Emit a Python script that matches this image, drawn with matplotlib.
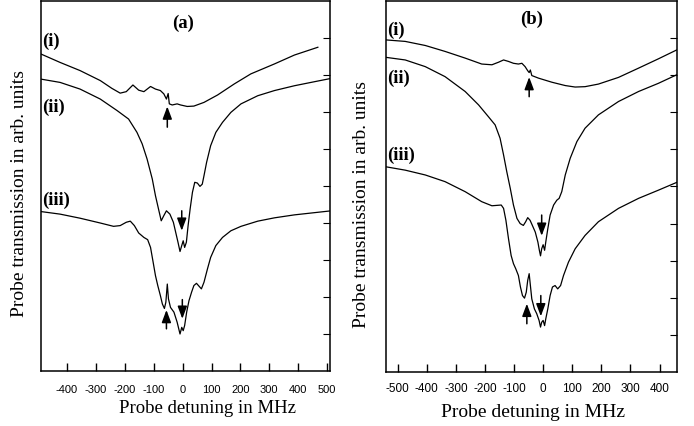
import matplotlib
matplotlib.use('Agg')
import matplotlib.pyplot as plt

# panel (a) - detuning in MHz, transmission in arb. units
a1_x = [-491, -424, -355, -285, -245, -216, -195, -172, -152, -134, -111, -94, -77, -65, -56, -50, -46, -36, -19, -7, 16, 39, 74, 121, 179, 236, 318, 387, 468]
a1_y = [8.57, 8.34, 8.12, 7.85, 7.64, 7.51, 7.55, 7.73, 7.59, 7.55, 7.69, 7.62, 7.58, 7.49, 7.35, 7.50, 7.22, 7.19, 7.22, 7.19, 7.15, 7.16, 7.26, 7.46, 7.76, 8.03, 8.30, 8.54, 8.75]

a2_x = [-491, -424, -355, -285, -227, -187, -158, -140, -123, -105, -94, -82, -74, -65, -56, -44, -32, -24, -16, -9, -3, 2, 7, 13, 19, 26, 34, 42, 51, 60, 68, 74, 83, 97, 115, 138, 167, 202, 260, 318, 387, 457, 515]
a2_y = [7.89, 7.80, 7.62, 7.35, 7.04, 6.81, 6.45, 6.14, 5.73, 5.19, 4.74, 4.33, 4.06, 4.20, 4.33, 4.24, 4.02, 3.75, 3.48, 3.23, 3.39, 3.52, 3.34, 3.48, 3.93, 4.38, 4.83, 5.10, 5.08, 4.99, 5.05, 5.28, 5.64, 6.09, 6.45, 6.72, 6.99, 7.22, 7.44, 7.58, 7.71, 7.82, 7.91]

a3_x = [-491, -424, -355, -285, -239, -216, -195, -181, -167, -152, -134, -121, -111, -102, -94, -86, -77, -70, -63, -58, -53, -49, -42, -30, -19, -9, -3, 2, 7, 14, 22, 31, 39, 48, 57, 65, 74, 86, 97, 115, 138, 167, 202, 260, 318, 387, 515]
a3_y = [4.31, 4.24, 4.13, 4.00, 3.91, 3.93, 4.02, 4.05, 3.93, 3.73, 3.61, 3.55, 3.34, 2.94, 2.58, 2.31, 2.04, 1.81, 1.69, 1.86, 2.35, 1.95, 1.72, 1.59, 1.32, 1.00, 1.18, 1.09, 1.23, 1.59, 1.90, 2.13, 2.31, 2.37, 2.29, 2.22, 2.40, 2.76, 3.07, 3.39, 3.61, 3.79, 3.91, 4.05, 4.14, 4.22, 4.33]

# panel (b)
b1_x = [-540, -474, -405, -337, -268, -211, -176, -153, -136, -119, -102, -85, -73, -62, -53, -48, -44, -39, -16, 30, 76, 110, 144, 190, 259, 328, 396, 459]
b1_y = [8.95, 8.91, 8.80, 8.64, 8.46, 8.30, 8.28, 8.35, 8.41, 8.37, 8.32, 8.30, 8.32, 8.23, 8.12, 8.07, 8.14, 7.99, 7.92, 7.81, 7.72, 7.68, 7.69, 7.76, 7.94, 8.19, 8.44, 8.68]

b2_x = [-540, -474, -405, -337, -268, -222, -188, -165, -148, -136, -125, -113, -102, -90, -79, -68, -60, -53, -45, -37, -27, -18, -13, -9, -5, 0, 5, 9, 16, 24, 36, 47, 55, 64, 76, 93, 116, 144, 190, 259, 328, 396, 459]
b2_y = [8.48, 8.41, 8.23, 7.96, 7.56, 7.20, 6.88, 6.66, 6.30, 5.85, 5.40, 4.95, 4.50, 4.14, 4.00, 3.95, 4.05, 4.16, 4.09, 3.95, 3.77, 3.50, 3.28, 3.13, 3.32, 3.43, 3.28, 3.50, 3.86, 4.23, 4.50, 4.63, 4.68, 4.86, 5.31, 5.76, 6.21, 6.57, 6.93, 7.29, 7.56, 7.78, 8.01]

b3_x = [-540, -474, -405, -337, -268, -211, -176, -144, -136, -128, -119, -110, -102, -94, -85, -78, -71, -64, -58, -53, -48, -45, -39, -30, -22, -14, -9, -5, 0, 5, 9, 16, 24, 32, 41, 50, 60, 70, 87, 110, 144, 190, 259, 328, 396, 459]
b3_y = [5.53, 5.44, 5.31, 5.13, 4.86, 4.59, 4.48, 4.50, 4.41, 4.09, 3.59, 3.14, 2.92, 2.78, 2.60, 2.29, 2.06, 1.99, 2.15, 2.47, 2.65, 2.42, 1.97, 1.70, 1.57, 1.39, 1.21, 1.34, 1.39, 1.25, 1.43, 1.70, 2.06, 2.29, 2.33, 2.24, 2.33, 2.60, 2.96, 3.32, 3.68, 4.05, 4.41, 4.68, 4.90, 5.11]

# arrows: (x, tail y, tip y)
a_arrows = [(-53, 6.59, 7.15), (-3, 4.33, 3.79), (-56, 1.14, 1.65), (-1, 1.93, 1.41)]
b_arrows = [(-48, 7.42, 7.95), (-5, 4.23, 3.67), (-56, 1.30, 1.84), (-8, 2.06, 1.50)]

a_ticks = [-400, -300, -200, -100, 0, 100, 200, 300, 400, 500]
b_ticks = [-500, -400, -300, -200, -100, 0, 100, 200, 300, 400]

serif = 'Liberation Serif'
sans = 'Liberation Sans'

fig = plt.figure(figsize=(6.94, 4.27), dpi=100)
axa = fig.add_axes([0.0591, 0.1288, 0.4164, 0.8665])
axb = fig.add_axes([0.5562, 0.1265, 0.4193, 0.8689])


def panel(ax, curves, arrows, ticks, xlim, labels, title, tpos, lpad, tsize):
    for x, y in curves:
        ax.plot(x, y, color='black', lw=0.9, solid_joinstyle='round')
    for x, y0, y1 in arrows:
        ax.annotate('', xy=(x, y1), xytext=(x, y0),
                    arrowprops=dict(arrowstyle='-|>,head_length=0.75,head_width=0.28',
                                    color='black', lw=1.1, mutation_scale=10,
                                    shrinkA=0, shrinkB=0))
    ax.set_xlim(xlim)
    ax.set_ylim(0, 10)
    ax.set_xticks(ticks)
    ax.set_xticklabels([str(t) for t in ticks], fontfamily=sans, fontsize=tsize)
    ax.set_yticks([1, 2, 3, 4, 5, 6, 7, 8, 9])
    ax.tick_params(axis='x', direction='in', length=6, width=1, pad=lpad)
    ax.tick_params(axis='y', direction='in', left=False, right=True,
                   labelleft=False, length=5, width=0.8)
    for s in ax.spines.values():
        s.set_linewidth(1.1)
    for txt, yy in labels:
        ax.text(xlim[0] + 5, yy, txt, fontfamily=serif, fontweight='bold',
                fontsize=13.5, ha='left', va='center')
    ax.text(tpos[0], tpos[1], title, fontfamily=serif, fontweight='bold',
            fontsize=13.5, ha='center', va='center')


panel(axa, [(a1_x, a1_y), (a2_x, a2_y), (a3_x, a3_y)], a_arrows, a_ticks,
      (-490, 510), [('(i)', 8.95), ('(ii)', 7.16), ('(iii)', 4.65)], '(a)', (0, 9.43), 9, 8)
panel(axb, [(b1_x, b1_y), (b2_x, b2_y), (b3_x, b3_y)], b_arrows, b_ticks,
      (-540, 460), [('(i)', 9.24), ('(ii)', 7.95), ('(iii)', 5.86)], '(b)', (-39, 9.54), 7, 8.5)

fig.text(0.2997, 0.044, 'Probe detuning in MHz', fontfamily=serif, fontsize=13.5,
         ha='center', va='center')
fig.text(0.768, 0.0328, 'Probe detuning in MHz', fontfamily=serif, fontsize=14,
         ha='center', va='center')
fig.text(0.0288, 0.548, 'Probe transmission in arb. units', fontfamily=serif, fontsize=14,
         ha='center', va='center', rotation=90)
fig.text(0.5216, 0.52, 'Probe transmission in arb. units', fontfamily=serif, fontsize=14,
         ha='center', va='center', rotation=90)

fig.savefig('out.png', dpi=100)
